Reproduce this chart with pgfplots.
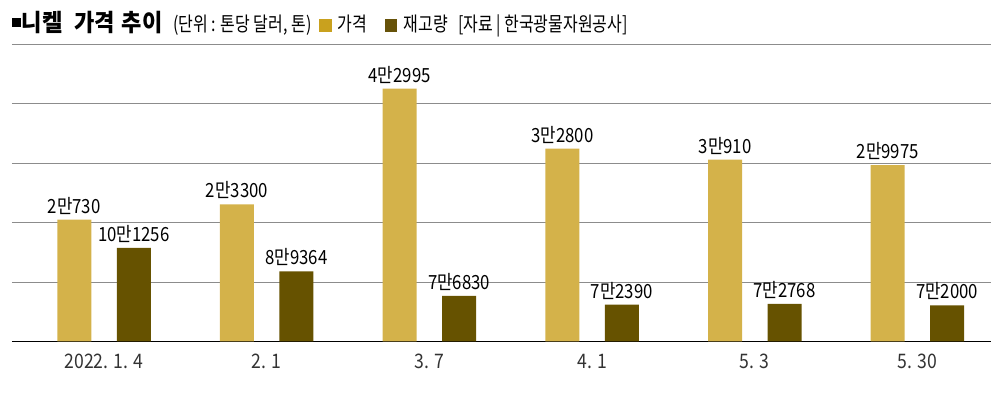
\documentclass[border=0pt]{standalone}
\usepackage{fontspec}
\usepackage{pgfplots}
\pgfplotsset{compat=1.18}
\usepackage{pgfplotstable}
\newfontfamily\krlab{Noto Sans CJK KR}[FakeStretch=0.86]
\newfontfamily\krtick{Noto Sans CJK KR}[FakeStretch=0.88]
\newfontfamily\krsub{Noto Sans CJK KR}[FakeStretch=0.8]
\newfontfamily\krtitle{Noto Sans CJK KR}[FakeStretch=0.92]
\definecolor{goldbar}{HTML}{D4B24A}
\definecolor{darkbar}{HTML}{665200}
\definecolor{goldleg}{HTML}{C9A11E}
\definecolor{darkleg}{HTML}{665209}
\pgfplotstableread{
x price label
0 20730 2만730
1 23300 2만3300
2 42995 4만2995
3 32800 3만2800
4 30910 3만910
5 29975 2만9975
}\pricetab
\pgfplotstableread{
x stock label
0 101256 10만1256
1 89364 8만9364
2 76830 7만6830
3 72390 7만2390
4 72768 7만2768
5 72000 7만2000
}\stocktab
\begin{document}
\begin{tikzpicture}[x=1pt,y=1pt]
\path[use as bounding box] (0,0) rectangle (1000,393);
\pgfplotsset{
  base/.style={
    at={(12pt,51.5pt)}, anchor=south west, scale only axis,
    width=979pt, height=297pt, clip=false,
    xmin=-0.5655, xmax=5.452, scaled y ticks=false,
  },
  labstyle/.style={
    nodes near coords, point meta=explicit symbolic,
    every node near coord/.append style={anchor=base, inner sep=0pt, yshift=6.5pt, xshift=#1,
      font=\krlab\fontsize{19.5}{20}\selectfont, text=black},
  },
}
\begin{axis}[base,
  ymin=0, ymax=50500,
  axis line style={draw=none},
  ytick={10100,20200,30300,40400,50500}, yticklabel=\empty,
  ymajorgrids, grid style={draw=black!45, line width=0.9pt},
  extra y ticks={0}, extra y tick labels={},
  extra y tick style={grid style={draw=black, line width=1.5pt}},
  major tick length=0pt,
  xtick={0,1,2,3,4,5},
  xticklabels={2022. 1. 4, 2. 1, 3. 7, 4. 1, 5. 3, 5. 30},
  xticklabel style={anchor=base, inner sep=0pt, yshift=-27pt,
    font=\krtick\fontsize{20}{20}\selectfont, text=black!80},
]
\addplot[ybar, bar width=34pt, bar shift=-29.75pt, fill=goldbar, draw=none, labstyle=-29.75pt]
  table[x=x, y=price, meta=label]{\pricetab};
\end{axis}
\begin{axis}[base,
  ymin=53550, ymax=205000,
  hide axis,
]
\addplot[ybar, bar width=34pt, bar shift=29.75pt, fill=darkbar, draw=none, labstyle=29.75pt]
  table[x=x, y=stock, meta=label]{\stocktab};
\end{axis}
% title
\fill[black] (11.5,365.7) rectangle (20.5,374.7);
\node[anchor=base west, inner sep=0pt] at (21.5,361.5) {\krtitle\bfseries\fontsize{24}{24}\selectfont 니켈};
\node[anchor=base west, inner sep=0pt] at (74,361.5) {\krtitle\bfseries\fontsize{24}{24}\selectfont 가격};
\node[anchor=base west, inner sep=0pt] at (121.5,361.5) {\krtitle\bfseries\fontsize{24}{24}\selectfont 추이};
\node[anchor=base west, inner sep=0pt] at (173,361.5) {\krsub\fontsize{20}{20}\selectfont (단위 : 톤당 달러, 톤)};
\fill[goldleg] (319,361.3) rectangle (332,374);
\node[anchor=base west, inner sep=0pt] at (337.5,361.5) {\krsub\fontsize{20}{20}\selectfont 가격};
\fill[darkleg] (385,361.3) rectangle (397,374);
\node[anchor=base west, inner sep=0pt] at (403.5,361.5) {\krsub\fontsize{20}{20}\selectfont 재고량};
\node[anchor=base west, inner sep=0pt] at (458,361.5) {\krsub\fontsize{20}{20}\selectfont [자료 | 한국광물자원공사]};
\end{tikzpicture}
\end{document}
